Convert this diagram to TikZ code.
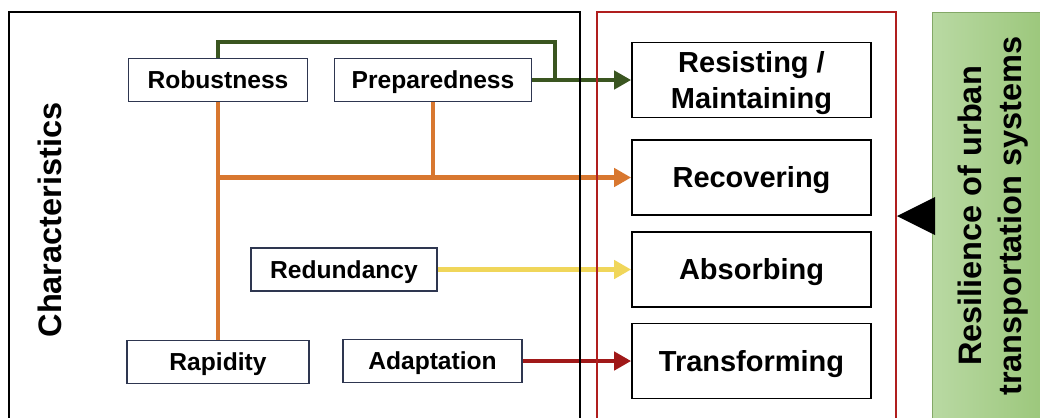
\documentclass[tikz,border=0pt]{standalone}
\usepackage{fontspec}
\setmainfont{Liberation Sans}
\usetikzlibrary{arrows.meta,positioning}
\definecolor{navy}{HTML}{2E3650}
\definecolor{leafgreen}{HTML}{3A5520}
\definecolor{rust}{HTML}{D8772F}
\definecolor{sand}{HTML}{F0D65A}
\definecolor{wine}{HTML}{A01818}
\definecolor{frame}{HTML}{B01E1E}
\definecolor{paleL}{HTML}{B9D9A3}
\definecolor{paleR}{HTML}{9AC679}

\begin{document}
\begin{tikzpicture}[x=0.02cm,y=-0.02cm,
  charbox/.style={draw=navy,line width=0.9pt,fill=white,minimum height=0.86cm,inner sep=0pt,text height=10pt,text depth=0pt,font=\fontsize{14}{16}\selectfont\bfseries},
  outbox/.style={draw=black,line width=1pt,fill=white,minimum width=4.78cm,minimum height=1.5cm,inner sep=0pt,text height=11.9pt,text depth=0pt,align=center,font=\fontsize{16.5}{20}\selectfont\bfseries},
  joint/.style={line width=2.7pt},
  link/.style={joint,-{Triangle[length=0.34cm,width=0.36cm]}}]
\useasboundingbox (0,0) rectangle (1040,417);
\clip (0,0) rectangle (1040,417);
% system side
\shade[left color=paleL,right color=paleR,draw=paleR!85!black,line width=0.5pt] (932,12) rectangle (1050,430);
\node[rotate=90,align=center,font=\fontsize{18.5}{23}\selectfont\bfseries] (sys) at (993,216) {Resilience of urban\\transportation systems};
\fill (897,216) -- (935,197) -- (935,235) -- cycle;
\node[rotate=90,font=\fontsize{18.5}{22}\selectfont\bfseries] (chr) at (50,220) {Characteristics};
% characteristics
\node[charbox,minimum width=3.58cm] (rob) at (218,80) {Robustness};
\node[charbox,minimum width=3.94cm] (prep) at (433,80) {Preparedness};
\node[charbox,minimum width=3.72cm] (redun) at (344,269.5) {Redundancy};
\node[charbox,minimum width=3.64cm] (rapid) at (218,362) {Rapidity};
\node[charbox,minimum width=3.58cm] (adapt) at (432.5,361) {Adaptation};
% abilities
\node[outbox,text height=32pt] (resist) at (751.5,80) {Resisting /\\Maintaining};
\node[outbox] (recover) at (751.5,177.5) {Recovering};
\node[outbox] (absorb) at (751.5,269.5) {Absorbing};
\node[outbox] (transf) at (751.5,361) {Transforming};
% links
\coordinate (gtop) at (555,42);
\coordinate (ojoin) at (rob.south |- recover.west);
\draw[joint,leafgreen] (rob.north) |- (gtop) -- (gtop |- prep.east);
\draw[link,leafgreen] (prep.east) -- (resist.west);
\draw[joint,rust] (rob.south) -- (rapid.north);
\draw[joint,rust] (prep.south) -- (prep.south |- ojoin);
\draw[link,rust] (ojoin) -- (recover.west);
\draw[link,sand] (redun.east) -- (absorb.west);
\draw[link,wine] (adapt.east) -- (transf.west);
% frames
\draw[line width=1pt] (9,12) rectangle (580,430);
\draw[frame,line width=1.2pt] (597,12) rectangle (896,430);
\end{tikzpicture}
\end{document}
